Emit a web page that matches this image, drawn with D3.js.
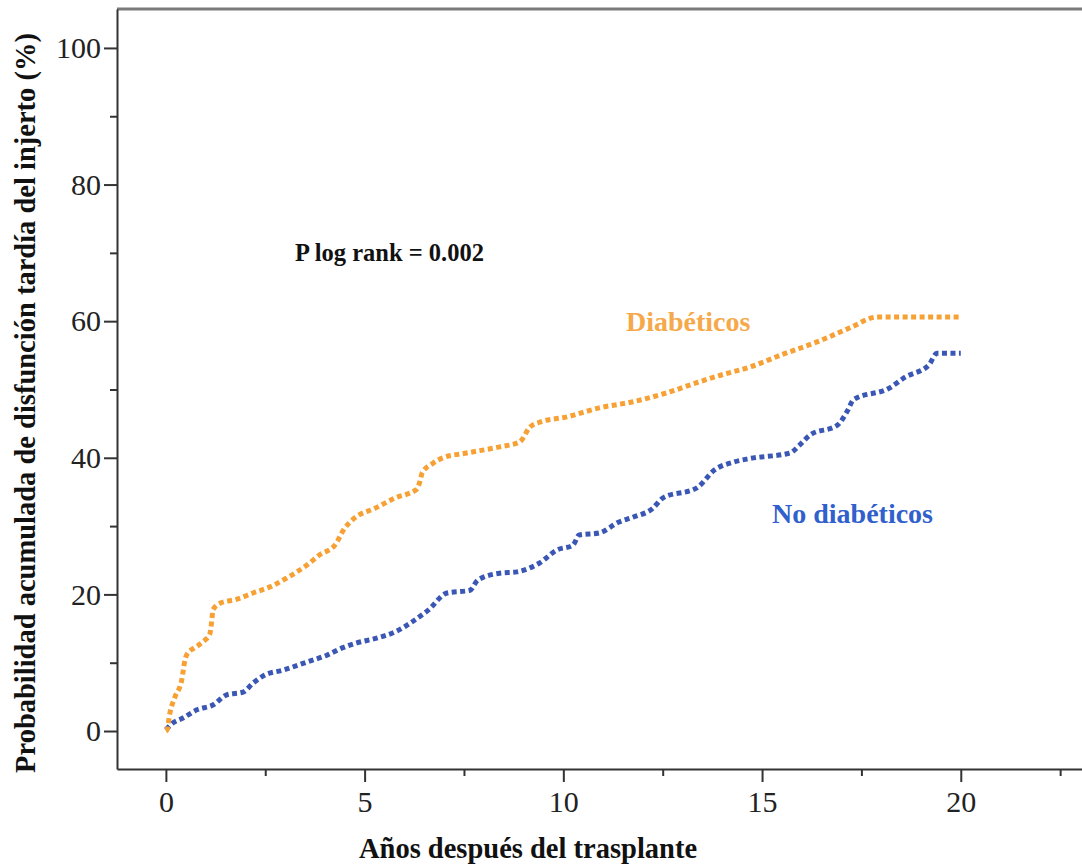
<!DOCTYPE html>
<html>
<head>
<meta charset="utf-8">
<script src="https://cdn.jsdelivr.net/npm/d3@7"></script>
<style>
  body { margin: 0; background: #fff; }
  svg { display: block; }
  .tick text { font-family: "Liberation Serif", "Times New Roman", serif; fill: #222; }
</style>
</head>
<body>
<div id="chart"></div>
<script>
var svgWidth = 1082;
var svgHeight = 865;

// data (years, cumulative %)
var diabYears = [0, 0.03, 0.1, 0.23, 0.4, 0.48, 0.55, 0.73, 0.98, 1.1, 1.16, 1.18, 1.36, 1.79, 2.19, 2.62, 3.04, 3.55, 3.87, 4.25, 4.5, 4.75, 5.26, 5.76, 6.31, 6.39, 6.45, 6.72, 6.97, 7.57, 8.4, 8.9, 9.16, 9.4, 10.1, 10.9, 11.75, 12.6, 13.36, 13.9, 14.7, 15.5, 16.4, 17.2, 17.9, 20.0];
var diabValues = [0, 0.2, 2.6, 5.0, 7.5, 10.4, 11.4, 12.2, 13.3, 14.1, 16.5, 17.7, 18.7, 19.3, 20.2, 21.1, 22.4, 24.3, 25.8, 27.2, 29.7, 31.2, 32.6, 34.1, 35.4, 36.5, 37.8, 39.2, 40.0, 40.7, 41.6, 42.3, 44.5, 45.2, 46.0, 47.3, 48.2, 49.5, 51.0, 52.0, 53.3, 55.1, 57.0, 59.0, 60.6, 60.6];

var noDiabYears = [0, 0.18, 0.43, 0.78, 1.18, 1.53, 1.94, 2.19, 2.49, 2.94, 3.55, 4.05, 4.45, 4.8, 5.3, 5.8, 6.2, 6.6, 7.07, 7.65, 7.85, 8.4, 8.83, 9.4, 9.84, 10.24, 10.4, 10.9, 11.4, 11.75, 12.25, 12.5, 13.36, 13.8, 14.3, 14.7, 15.7, 15.95, 16.2, 16.9, 17.16, 17.3, 18.2, 18.6, 19.2, 19.4, 20.0];
var noDiabValues = [0.2, 1.2, 1.9, 3.1, 3.8, 5.3, 5.7, 7.0, 8.2, 8.9, 10.1, 11.1, 12.2, 12.9, 13.6, 14.6, 16.0, 17.7, 20.2, 20.6, 22.1, 23.1, 23.3, 24.6, 26.5, 27.2, 28.7, 29.0, 30.6, 31.3, 32.6, 34.1, 35.6, 38.2, 39.4, 39.9, 40.7, 41.9, 43.3, 44.8, 47.0, 48.5, 50.2, 51.8, 53.6, 55.3, 55.3];

var xMajorTicks = [0, 5, 10, 15, 20];
var xMinorTicks = [2.5, 7.5, 12.5, 17.5, 22.5];
var yMajorTicks = [0, 20, 40, 60, 80, 100];
var yMinorTicks = [10, 30, 50, 70, 90];

var svg = d3.select("#chart")
  .append("svg")
  .attr("width", svgWidth)
  .attr("height", svgHeight);

var xScale = d3.scaleLinear().domain([-1.23, 23.05]).range([117, 1082]);
var yScale = d3.scaleLinear().domain([-5.56, 105.7]).range([769, 9]);

// top frame line
svg.append("line")
  .attr("x1", 117).attr("x2", svgWidth)
  .attr("y1", 9).attr("y2", 9)
  .attr("stroke", "#7a7a7a")
  .attr("stroke-width", 3);

// minor ticks
svg.append("g")
  .attr("transform", "translate(0,769)")
  .call(d3.axisBottom(xScale).tickValues(xMinorTicks).tickSize(7).tickSizeOuter(0).tickFormat(""))
  .call(g => g.select(".domain").remove());
svg.append("g")
  .attr("transform", "translate(117,0)")
  .call(d3.axisLeft(yScale).tickValues(yMinorTicks).tickSize(7).tickSizeOuter(0).tickFormat(""))
  .call(g => g.select(".domain").remove());

// major axes
var xAxis = svg.append("g")
  .attr("transform", "translate(0,769)")
  .call(d3.axisBottom(xScale).tickValues(xMajorTicks).tickSize(13).tickSizeOuter(0).tickPadding(9));
var yAxis = svg.append("g")
  .attr("transform", "translate(117,0)")
  .call(d3.axisLeft(yScale).tickValues(yMajorTicks).tickSize(13).tickSizeOuter(0).tickPadding(3));

svg.selectAll(".tick line").attr("stroke", "#333").attr("stroke-width", 2);
svg.selectAll(".domain").attr("stroke", "#333").attr("stroke-width", 2);
svg.selectAll(".tick text").style("font-size", "30px");

// curves
var line = d3.line()
  .x(d => xScale(d[0]))
  .y(d => yScale(d[1]))
  .curve(d3.curveMonotoneX);

svg.append("path")
  .datum(noDiabYears.map((x, i) => [x, noDiabValues[i]]))
  .attr("d", line)
  .attr("fill", "none")
  .attr("stroke", "#3a57b5")
  .attr("stroke-width", 5)
  .attr("stroke-dasharray", "5,3.5");

svg.append("path")
  .datum(diabYears.map((x, i) => [x, diabValues[i]]))
  .attr("d", line)
  .attr("fill", "none")
  .attr("stroke", "#f7a033")
  .attr("stroke-width", 5)
  .attr("stroke-dasharray", "5,3.5");

// annotations
svg.append("text")
  .attr("x", 295).attr("y", 261)
  .style("font-family", "Liberation Serif, serif")
  .style("font-weight", "bold")
  .style("font-size", "24.5px")
  .attr("fill", "#111")
  .text("P log rank = 0.002");

svg.append("text")
  .attr("x", 626).attr("y", 331)
  .style("font-family", "Liberation Serif, serif")
  .style("font-weight", "bold")
  .style("font-size", "28px")
  .attr("fill", "#f6a94a")
  .text("Diabéticos");

svg.append("text")
  .attr("x", 772).attr("y", 523)
  .style("font-family", "Liberation Serif, serif")
  .style("font-weight", "bold")
  .style("font-size", "28px")
  .attr("fill", "#3060cc")
  .text("No diabéticos");

// axis titles
svg.append("text")
  .attr("transform", "translate(35,403) rotate(-90)")
  .style("text-anchor", "middle")
  .style("font-family", "Liberation Serif, serif")
  .style("font-weight", "bold")
  .style("font-size", "28.5px")
  .attr("fill", "#111")
  .text("Probabilidad acumulada de disfunción tardía del injerto (%)");

svg.append("text")
  .attr("x", 528).attr("y", 858)
  .style("text-anchor", "middle")
  .style("font-family", "Liberation Serif, serif")
  .style("font-weight", "bold")
  .style("font-size", "28.5px")
  .attr("fill", "#111")
  .text("Años después del trasplante");
</script>
</body>
</html>
